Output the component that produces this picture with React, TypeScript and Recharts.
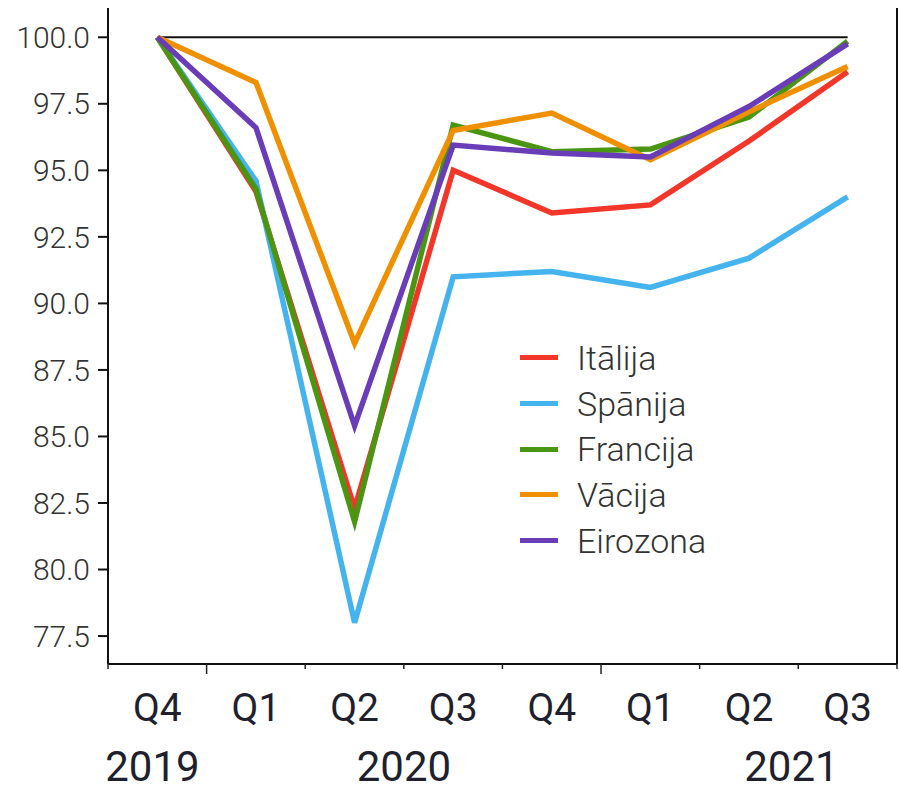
import { LineChart, Line, XAxis, YAxis, Legend } from "recharts";

const QUARTERS = ["Q4", "Q1", "Q2", "Q3", "Q4", "Q1", "Q2", "Q3"];
const ITALY = [100, 94.2, 82.3, 95.0, 93.4, 93.7, 96.1, 98.7];
const SPAIN = [100, 94.6, 78.0, 91.0, 91.2, 90.6, 91.7, 94.0];
const FRANCE = [100, 94.3, 81.8, 96.7, 95.7, 95.8, 97.0, 99.85];
const GERMANY = [100, 98.3, 88.5, 96.5, 97.15, 95.4, 97.2, 98.9];
const EUROZONE = [100, 96.6, 85.4, 95.95, 95.65, 95.5, 97.4, 99.75];
const BASE = [100, 100, 100, 100, 100, 100, 100, 100];
const Y_TICKS = [77.5, 80, 82.5, 85, 87.5, 90, 92.5, 95, 97.5, 100];
// year label sits under category index, shifted by fraction of a band
const YEARS: { index: number; shift: number; text: string }[] = [
  { index: 0, shift: -0.05, text: "2019" },
  { index: 2, shift: 0.5, text: "2020" },
  { index: 6, shift: 0.43, text: "2021" },
];
const YEAR_BOUNDARIES = [1, 5];

const SERIES = [
  { key: "italy", name: "Itālija", color: "#f2362a", values: ITALY },
  { key: "spain", name: "Spānija", color: "#45b3ee", values: SPAIN },
  { key: "france", name: "Francija", color: "#4a9612", values: FRANCE },
  { key: "germany", name: "Vācija", color: "#ef9000", values: GERMANY },
  { key: "eurozone", name: "Eirozona", color: "#6a3db8", values: EUROZONE },
];

const data = QUARTERS.map((q, i) => {
  const row: Record<string, number | string> = { q, base: BASE[i] };
  SERIES.forEach((s) => (row[s.key] = s.values[i]));
  return row;
});

const WIDTH = 899;
const HEIGHT = 785;
const LEFT = 108;
const RIGHT = 1;
const BAND = (WIDTH - LEFT - RIGHT) / QUARTERS.length;
const FONT = "Roboto, 'Noto Sans', sans-serif";

function QuarterTick(props: any) {
  const { x, y, payload, index } = props;
  const i = payload?.index ?? index;
  const left = x - BAND / 2;
  const long = YEAR_BOUNDARIES.includes(i);
  const year = YEARS.find((yr) => yr.index === i);
  return (
    <g>
      <line x1={left} x2={left} y1={y} y2={y + (long ? 10 : 5)} stroke="#222" strokeWidth={1.5} />
      {i === QUARTERS.length - 1 && (
        <line x1={x + BAND / 2} x2={x + BAND / 2} y1={y} y2={y + 5} stroke="#222" strokeWidth={1.5} />
      )}
      <text x={x} y={y + 57} textAnchor="middle" fontSize={39} fill="#1f1f2e" fontFamily={FONT}>
        {payload.value}
      </text>
      {year && (
        <text x={x + year.shift * BAND} y={y + 117} textAnchor="middle" fontSize={42} fill="#1f1f2e" fontFamily={FONT}>
          {year.text}
        </text>
      )}
    </g>
  );
}

function LegendBox() {
  return (
    <div style={{ fontFamily: FONT, fontWeight: 300, fontSize: 34, color: "#333" }}>
      {SERIES.map((s) => (
        <div key={s.key} style={{ display: "flex", alignItems: "center", height: 45.7 }}>
          <div style={{ width: 38, height: 5, background: s.color, marginRight: 19 }} />
          <span>{s.name}</span>
        </div>
      ))}
    </div>
  );
}

export default function App() {
  return (
    <div style={{ position: "absolute", left: 0, top: 0, background: "#fff" }}>
      <LineChart width={WIDTH} height={HEIGHT} data={data} margin={{ top: 8, right: RIGHT, bottom: 0, left: 0 }}>
        <XAxis
          dataKey="q"
          interval={0}
          tick={<QuarterTick />}
          tickLine={false}
          tickSize={0}
          tickMargin={0}
          axisLine={{ stroke: "#111", strokeWidth: 2 }}
          height={121}
          padding={{ left: BAND / 2, right: BAND / 2 }}
        />
        <YAxis
          width={LEFT}
          domain={[76.45, 101.1]}
          ticks={Y_TICKS}
          interval={0}
          tickFormatter={(v: number) => v.toFixed(1)}
          tickSize={10}
          tickMargin={8}
          tickLine={{ stroke: "#111", strokeWidth: 2 }}
          axisLine={{ stroke: "#111", strokeWidth: 2 }}
          tick={{ fontSize: 30, fontWeight: 300, fill: "#333", fontFamily: FONT }}
          allowDataOverflow
        />
        <YAxis yAxisId="r" orientation="right" width={RIGHT} tick={false} tickLine={false} axisLine={{ stroke: "#111", strokeWidth: 2 }} />
        <Line dataKey="base" stroke="#111" strokeWidth={2} dot={false} isAnimationActive={false} legendType="none" />
        {SERIES.map((s) => (
          <Line
            key={s.key}
            dataKey={s.key}
            name={s.name}
            stroke={s.color}
            strokeWidth={5.5}
            dot={false}
            isAnimationActive={false}
          />
        ))}
        <Legend
          layout="vertical"
          align="center"
          verticalAlign="middle"
          content={<LegendBox />}
          wrapperStyle={{ left: 520, top: 335, width: 240, bottom: "auto" }}
        />
      </LineChart>
    </div>
  );
}
